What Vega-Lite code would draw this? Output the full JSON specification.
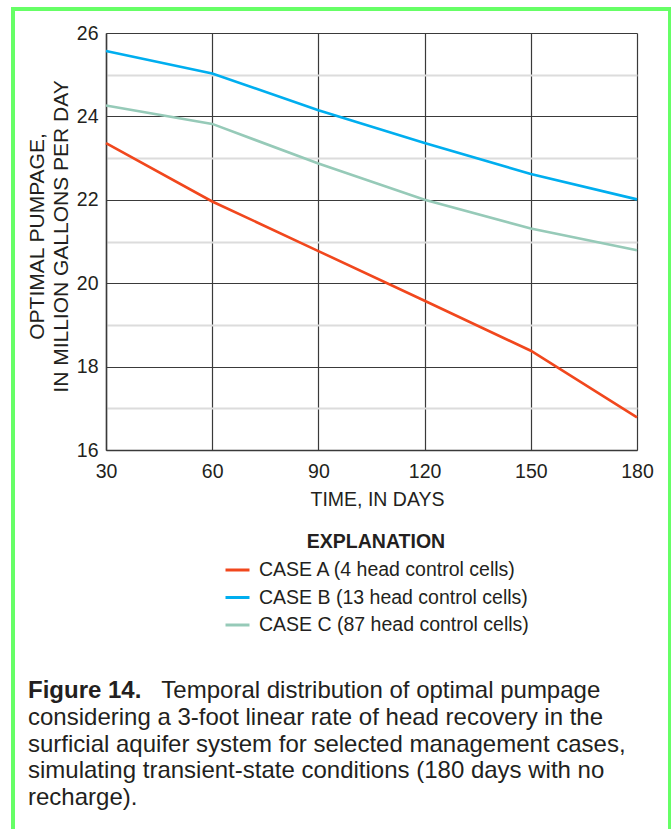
{
  "$schema": "https://vega.github.io/schema/vega-lite/v6.json",
  "width": 657,
  "height": 840,
  "autosize": {"type": "none"},
  "padding": {"left": 13, "top": 9, "right": 1, "bottom": 0},
  "background": "white",
  "title": {
    "text": "Figure 14.",
    "subtitle": [
      "\u200b\u00a0\u00a0\u00a0\u00a0\u00a0\u00a0\u00a0\u00a0\u00a0\u00a0\u00a0\u00a0\u00a0\u00a0\u00a0\u00a0\u00a0\u00a0\u00a0\u00a0Temporal distribution of optimal pumpage",
      "considering a 3-foot linear rate of head recovery in the",
      "surficial aquifer system for selected management cases,",
      "simulating transient-state conditions (180 days with no",
      "recharge)."
    ],
    "orient": "top",
    "anchor": "start",
    "frame": "group",
    "offset": -801,
    "dx": 15,
    "font": "Liberation Sans",
    "fontSize": 24,
    "fontWeight": "bold",
    "color": "#231f20",
    "subtitleFont": "Liberation Sans",
    "subtitleFontSize": 24,
    "subtitleColor": "#231f20",
    "subtitleLineHeight": 26.7,
    "subtitlePadding": -24
  },
  "data": {
    "values": [
      {"case": "CASE A (4 head control cells)", "day": 30, "pumpage": 23.36},
      {"case": "CASE A (4 head control cells)", "day": 60, "pumpage": 21.96},
      {"case": "CASE A (4 head control cells)", "day": 90, "pumpage": 20.77},
      {"case": "CASE A (4 head control cells)", "day": 120, "pumpage": 19.58},
      {"case": "CASE A (4 head control cells)", "day": 150, "pumpage": 18.38},
      {"case": "CASE A (4 head control cells)", "day": 180, "pumpage": 16.78},
      {"case": "CASE B (13 head control cells)", "day": 30, "pumpage": 25.57},
      {"case": "CASE B (13 head control cells)", "day": 60, "pumpage": 25.03},
      {"case": "CASE B (13 head control cells)", "day": 90, "pumpage": 24.15},
      {"case": "CASE B (13 head control cells)", "day": 120, "pumpage": 23.36},
      {"case": "CASE B (13 head control cells)", "day": 150, "pumpage": 22.62},
      {"case": "CASE B (13 head control cells)", "day": 180, "pumpage": 22.01},
      {"case": "CASE C (87 head control cells)", "day": 30, "pumpage": 24.26},
      {"case": "CASE C (87 head control cells)", "day": 60, "pumpage": 23.82},
      {"case": "CASE C (87 head control cells)", "day": 90, "pumpage": 22.87},
      {"case": "CASE C (87 head control cells)", "day": 120, "pumpage": 22.0},
      {"case": "CASE C (87 head control cells)", "day": 150, "pumpage": 21.31},
      {"case": "CASE C (87 head control cells)", "day": 180, "pumpage": 20.79}
    ]
  },
  "mark": {"type": "line", "strokeWidth": 2.6},
  "encoding": {
    "x": {
      "field": "day",
      "type": "quantitative",
      "scale": {"domain": [30, 180], "range": [93, 624], "nice": false, "zero": false},
      "axis": {
        "orient": "top",
        "offset": -441,
        "values": [30, 60, 90, 120, 150, 180],
        "ticks": false,
        "labelBaseline": "top",
        "labelPadding": -12,
        "labelFont": "Liberation Sans",
        "labelFontSize": 19.5,
        "labelColor": "#231f20",
        "labelFlush": false,
        "labelOverlap": false,
        "domainColor": "#3a3a3a",
        "domainWidth": 1.5,
        "grid": true,
        "gridColor": "#3a3a3a",
        "gridWidth": 1.2,
        "title": "TIME, IN DAYS",
        "titleFont": "Liberation Sans",
        "titleFontSize": 19.5,
        "titleFontWeight": "normal",
        "titleColor": "#231f20",
        "titleX": 364,
        "titleY": 40,
        "titleBaseline": "top",
        "titleAlign": "center"
      }
    },
    "y": {
      "field": "pumpage",
      "type": "quantitative",
      "scale": {"domain": [16, 26], "range": [441, 24], "nice": false, "zero": false},
      "axis": {
        "orient": "left",
        "offset": -93,
        "values": [16, 17, 18, 19, 20, 21, 22, 23, 24, 25, 26],
        "labelExpr": "datum.value % 2 === 0 ? datum.label : ''",
        "ticks": false,
        "labelPadding": 8,
        "labelFont": "Liberation Sans",
        "labelFontSize": 19.5,
        "labelColor": "#231f20",
        "labelFlush": false,
        "labelOverlap": false,
        "domainColor": "#3a3a3a",
        "domainWidth": 1.5,
        "grid": true,
        "gridColor": {"condition": {"test": "datum.value % 2 === 0", "value": "#3a3a3a"}, "value": "#dcdcdc"},
        "gridWidth": {"condition": {"test": "datum.value % 2 === 0", "value": 1.2}, "value": 2},
        "title": ["OPTIMAL PUMPAGE,", "IN MILLION GALLONS PER DAY"],
        "titleFont": "Liberation Sans",
        "titleFontSize": 21,
        "titleFontWeight": "normal",
        "titleColor": "#231f20",
        "titleLineHeight": 24,
        "titleAngle": -90,
        "titleX": -69,
        "titleY": 227,
        "titleBaseline": "middle",
        "titleAlign": "center"
      }
    },
    "color": {
      "field": "case",
      "type": "nominal",
      "scale": {
        "domain": ["CASE A (4 head control cells)", "CASE B (13 head control cells)", "CASE C (87 head control cells)"],
        "range": ["#f1471d", "#00aeef", "#96cab8"]
      },
      "legend": {
        "title": "EXPLANATION",
        "orient": "none",
        "legendX": 211,
        "legendY": 524,
        "direction": "vertical",
        "symbolType": "stroke",
        "symbolSize": 576,
        "symbolStrokeWidth": 3,
        "labelFont": "Liberation Sans",
        "labelFontSize": 19.5,
        "labelColor": "#231f20",
        "labelOffset": 8,
        "labelLimit": 400,
        "titleFont": "Liberation Sans",
        "titleFontSize": 19.5,
        "titleFontWeight": "bold",
        "titleColor": "#231f20",
        "titleAnchor": "middle",
        "titlePadding": 4,
        "padding": 0,
        "rowPadding": 4.5
      }
    }
  },
  "config": {
    "view": {"stroke": "#66ff66", "strokeWidth": 4, "fill": "white"}
  }
}
